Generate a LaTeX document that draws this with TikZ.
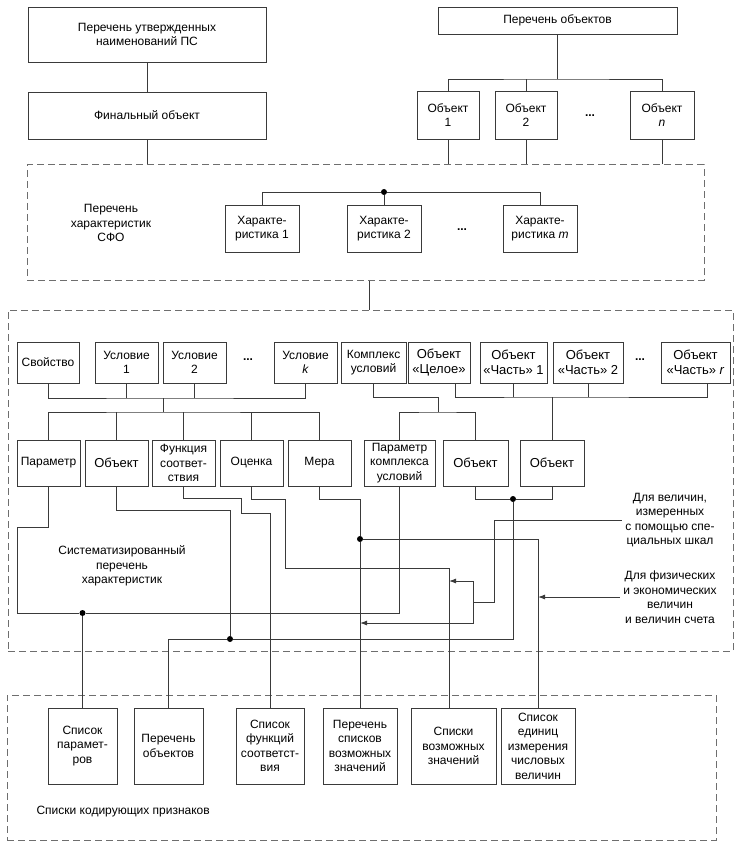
\documentclass[tikz,border=0pt]{standalone}
\usepackage{fontspec}
\setmainfont{Liberation Sans}
\usetikzlibrary{positioning,arrows.meta}
\definecolor{Wire}{HTML}{3A3A3A}
\definecolor{Frame}{HTML}{6E6E6E}

\begin{document}
\begin{tikzpicture}[x=1pt,y=-1pt,
  box/.style={draw=Wire, line width=0.9pt, fill=white, align=center, inner sep=1pt, font=\fontsize{12}{14.5}\selectfont},
  bigbox/.style={box, font=\fontsize{13}{15.5}\selectfont},
  wire/.style={draw=Wire, line width=0.9pt},
  feed/.style={wire, -{Latex[length=7pt,width=5pt]}},
  group/.style={draw=Frame, line width=1pt, dash pattern=on 7pt off 4pt},
  note/.style={align=center, font=\fontsize{12}{14.5}\selectfont},
  junction/.style={circle, fill=black, inner sep=0pt, minimum size=6pt}]
\useasboundingbox (0,0) rectangle (740,850);

% dashed groups
\node[group, minimum width=677pt, minimum height=115pt] (chargroup) at (365.5,222.5) {};
\node[group, minimum width=725pt, minimum height=341pt] (maingroup) at (370.5,480.5) {};
\node[group, minimum width=709pt, minimum height=145pt] (codegroup) at (361.5,767.5) {};

% top part
\node[box, minimum width=238pt, minimum height=55pt] (names) at (147,34.5) {Перечень утвержденных\\наименований ПС};
\node[box, minimum width=238pt, minimum height=47pt] (final) at (147,115.5) {Финальный объект};
\node[box, minimum width=239pt, minimum height=27pt] (objlist) at (557.5,20.5) {Перечень объектов};
\node[box, minimum width=62pt, minimum height=48pt] (ob1) at (448,115) {Объект\\1};
\node[box, minimum width=62pt, minimum height=48pt] (ob2) at (526,115) {Объект\\2};
\node[note] (obdots) at (590,116) {\textbf{...}};
\node[box, minimum width=64pt, minimum height=48pt] (obn) at (662,115) {Объект\\\textit{n}};
\coordinate (objbus) at (557.5,79);
\draw[wire] (names) -- (final);
\draw[wire] (final) -- (final.south |- chargroup.north);
\draw[wire] (objlist) -- (objbus);
\draw[wire] (ob1.north) |- (objbus) -| (obn.north);
\draw[wire] (ob2.north) -- (ob2.north |- objbus);
\foreach \o in {ob1,ob2,obn}
  \draw[wire] (\o.south) -- (\o.south |- chargroup.north);

% characteristics of the final object
\node[note] (chartitle) at (111,223) {Перечень\\характеристик\\СФО};
\node[box, minimum width=74pt, minimum height=47pt] (char1) at (262,228.5) {Характе-\\ристика 1};
\node[box, minimum width=74pt, minimum height=47pt] (char2) at (384,228.5) {Характе-\\ристика 2};
\node[note] (chardots) at (462,230) {\textbf{...}};
\node[box, minimum width=74pt, minimum height=47pt] (charm) at (540,228.5) {Характе-\\ристика \textit{m}};
\node[junction] (charjoint) at (384,192) {};
\draw[wire] (char1.north) |- (charjoint) -| (charm.north);
\draw[wire] (charjoint) -- (char2);
\draw[wire] ([xshift=4pt]chargroup.south) -- ([xshift=4pt]chargroup.south |- maingroup.north);

% first row
\node[box, minimum width=62pt, minimum height=41pt] (prop) at (48,362.5) {Свойство};
\node[box, minimum width=63pt, minimum height=41pt] (cond1) at (126.5,362.5) {Условие\\1};
\node[box, minimum width=63pt, minimum height=41pt] (cond2) at (194.5,362.5) {Условие\\2};
\node[note] (conddots) at (248,360) {\textbf{...}};
\node[box, minimum width=63pt, minimum height=41pt] (condk) at (305.5,362.5) {Условие\\\textit{k}};
\node[box, minimum width=65pt, minimum height=41pt] (cplx) at (373.5,362.5) {Комплекс\\условий};
\node[bigbox, minimum width=62pt, minimum height=41pt] (whole) at (439,362.5) {Объект\\«Целое»};
\node[bigbox, minimum width=67pt, minimum height=41pt] (part1) at (513.5,362.5) {Объект\\«Часть» 1};
\node[bigbox, minimum width=70pt, minimum height=41pt] (part2) at (588,362.5) {Объект\\«Часть» 2};
\node[note] (partdots) at (640,360) {\textbf{...}};
\node[bigbox, minimum width=69pt, minimum height=41pt] (partr) at (695.5,362.5) {Объект\\«Часть» \textit{r}};

% second row
\node[box, minimum width=63pt, minimum height=46pt] (par) at (48.5,463) {Параметр};
\node[bigbox, minimum width=63pt, minimum height=46pt] (obj) at (116.5,463) {Объект};
\node[box, minimum width=63pt, minimum height=46pt] (func) at (183.5,463) {Функция\\соответ-\\ствия};
\node[box, minimum width=63pt, minimum height=46pt] (est) at (251.5,463) {Оценка};
\node[box, minimum width=63pt, minimum height=46pt] (meas) at (319.5,463) {Мера};
\node[box, minimum width=71pt, minimum height=46pt] (cpar) at (399.5,463) {Параметр\\комплекса\\условий};
\node[bigbox, minimum width=65pt, minimum height=46pt] (objb) at (475.5,463) {Объект};
\node[bigbox, minimum width=64pt, minimum height=46pt] (objc) at (552,463) {Объект};

% buses between the rows
\coordinate (condbus) at (163,398);
\coordinate (charbus) at (163,412);
\draw[wire] (prop.south) |- (condbus) -| (condk.south);
\foreach \c in {cond1,cond2}
  \draw[wire] (\c.south) -- (\c.south |- condbus);
\draw[wire] (condbus) -- (charbus);
\draw[wire] (par.north) |- (charbus) -| (meas.north);
\foreach \c in {obj,func,est}
  \draw[wire] (\c.north) -- (\c.north |- charbus);
\coordinate (cplxbus) at (438,397);
\coordinate (cplxdrop) at (438,412);
\draw[wire] (cplx.south) |- (cplxbus) -- (cplxdrop);
\draw[wire] (cpar.north) |- (cplxdrop) -| (objb.north);
\coordinate (partbus) at (552,397);
\draw[wire] ([xshift=16pt]whole.south) |- (partbus) -| ([xshift=11.5pt]partr.south);
\foreach \c in {part1,part2}
  \draw[wire] (\c.south) -- (\c.south |- partbus);
\draw[wire] (partbus) -- (objc.north);

% lists of coding features
\node[box, minimum width=69pt, minimum height=76pt] (lpar) at (82.5,746) {Список\\парамет-\\ров};
\node[box, minimum width=69pt, minimum height=76pt] (lobj) at (168.5,746) {Перечень\\объектов};
\node[box, minimum width=68pt, minimum height=76pt] (lfun) at (270,746) {Список\\функций\\соответст-\\вия};
\node[box, minimum width=74pt, minimum height=76pt] (llist) at (360,746) {Перечень\\списков\\возможных\\значений};
\node[box, minimum width=85pt, minimum height=76pt] (lposs) at (453.5,746) {Списки\\возможных\\значений};
\node[box, minimum width=74pt, minimum height=76pt] (lunit) at (538,746) {Список\\единиц\\измерения\\числовых\\величин};
\node[note, anchor=west] (codetitle) at (33,812) {Списки кодирующих признаков};

% texts inside the main group
\node[note] (systitle) at (122,566) {Систематизированный\\перечень\\характеристик};
\node[note] (special) at (670,520) {Для величин,\\измеренных\\с помощью спе-\\циальных шкал};
\node[note] (physical) at (670,597) {Для физических\\и экономических\\величин\\и величин счета};

% junctions
\node[junction] (dpar) at (82.5,613) {};
\node[junction] (dobj) at (230,639) {};
\node[junction] (dpair) at (513,499) {};
\node[junction] (dmeas) at (360,539) {};

% wiring to the lists
\draw[wire] (par.south) |- (17,527) |- (dpar) -| (cpar.south);
\draw[wire] (dpar) -- (lpar);
\draw[wire] (obj.south) -- ++(0,24) -| (dobj);
\draw[wire] (objb.south) |- (dpair) -| (objc.south);
\draw[wire] (lobj.north) |- (dobj) -| (dpair);
\draw[wire] (func.south) |- (241,498) -- (241,513) -| (lfun.north);
\coordinate (xposs) at (449,568);
\draw[wire] (est.south) |- (285,499) |- (xposs) -- (xposs |- lposs.north);
\draw[wire] (meas.south) -- ++(0,13) -| (dmeas) -- (llist);
\draw[wire] (dmeas) -| (lunit.north);
\draw[feed] (physical.west) -- (lunit.north |- physical.west);
\coordinate (fork) at (473,602);
\draw[wire] (special.west) -| (494,602) -- (fork);
\draw[feed] (fork) |- (xposs |- 0,581);
\draw[feed] (fork) |- (dmeas |- 0,623);
\end{tikzpicture}
\end{document}
